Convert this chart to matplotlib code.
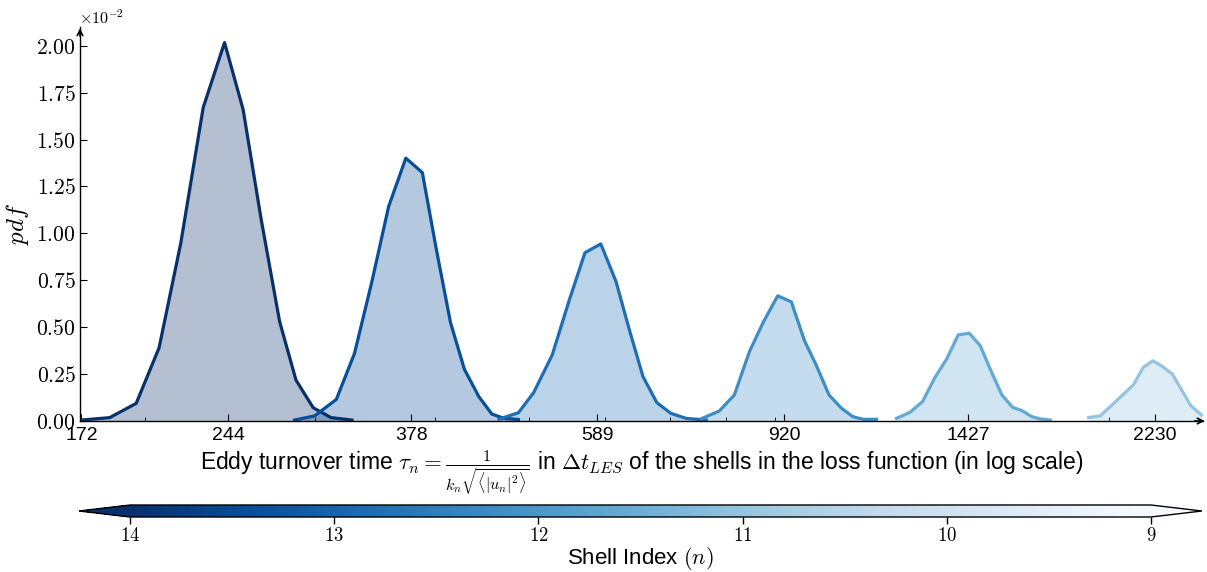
import numpy as np
import matplotlib.pyplot as plt
from matplotlib import cm, colors
from matplotlib.ticker import FuncFormatter, NullFormatter

plt.rcParams['mathtext.fontset'] = 'cm'
plt.rcParams['font.family'] = ['Liberation Sans', 'DejaVu Sans']

# pdf of the eddy turnover time per shell (pdf values in units of 1e-2)
shells = [14, 13, 12, 11, 10, 9]

tau_14 = [172, 184, 196, 207, 218, 230, 242, 253, 264, 276, 287, 299, 312, 328]
pdf_14 = [0.005, 0.018, 0.094, 0.39, 0.948, 1.671, 2.017, 1.659, 1.08, 0.53,
          0.218, 0.071, 0.018, 0.005]

tau_13 = [286, 300, 316, 330, 344, 358, 373, 388, 401, 415, 429, 444, 458, 471, 488]
pdf_13 = [0.005, 0.027, 0.115, 0.36, 0.743, 1.143, 1.401, 1.324, 0.92, 0.524,
          0.275, 0.13, 0.037, 0.015, 0.008]

tau_12 = [466, 488, 506, 529, 551, 572, 594, 616, 636, 657, 679, 702, 728, 764]
pdf_12 = [0.01, 0.044, 0.151, 0.352, 0.645, 0.897, 0.944, 0.743, 0.485, 0.236,
          0.098, 0.041, 0.014, 0.005]

tau_11 = [755, 788, 817, 847, 876, 906, 936, 966, 993, 1024, 1055, 1084, 1111, 1147]
pdf_11 = [0.012, 0.053, 0.139, 0.37, 0.53, 0.667, 0.635, 0.427, 0.299, 0.139,
          0.068, 0.023, 0.009, 0.009]

tau_10 = [1203, 1242, 1280, 1319, 1356, 1394, 1431, 1469, 1507, 1547, 1587, 1623,
          1662, 1696, 1737]
pdf_10 = [0.014, 0.046, 0.103, 0.233, 0.33, 0.459, 0.468, 0.402, 0.268, 0.139,
          0.073, 0.055, 0.023, 0.011, 0.005]

tau_9 = [1903, 1957, 2010, 2063, 2117, 2168, 2218, 2270, 2324, 2376, 2428, 2491]
pdf_9 = [0.018, 0.028, 0.083, 0.138, 0.192, 0.286, 0.321, 0.29, 0.25, 0.165,
         0.082, 0.032]

taus = [tau_14, tau_13, tau_12, tau_11, tau_10, tau_9]
pdfs = [pdf_14, pdf_13, pdf_12, pdf_11, pdf_10, pdf_9]

tau_ticks = [172, 244, 378, 589, 920, 1427, 2230]

cmap = plt.get_cmap('Blues')
line_colors = cmap(np.linspace(1.0, 0.4, len(shells)))

fig = plt.figure(figsize=(12.07, 5.72), dpi=100)
ax = fig.add_axes([80 / 1207, 151 / 572, 1123 / 1207, 394 / 572])

for tau, pdf, c in zip(taus, pdfs, line_colors):
    y = np.array(pdf) * 1e-2
    ax.fill_between(tau, y, 0, color=c, alpha=0.3, lw=0)
    ax.plot(tau, y, color=c, lw=2.3)

ax.set_xscale('log')
ax.set_xlim(171.4, 2500)
ax.set_ylim(0, 0.021)
ax.set_xticks(tau_ticks, labels=[str(t) for t in tau_ticks])
ax.xaxis.set_minor_formatter(NullFormatter())
ax.set_yticks(np.arange(0, 0.0201, 0.0025))
ax.yaxis.set_major_formatter(FuncFormatter(lambda v, _: f'${v * 100:.2f}$'))
ax.tick_params(axis='x', which='major', direction='in', length=5, labelsize=14, pad=4)
ax.tick_params(axis='x', which='minor', direction='in', length=3)
ax.tick_params(axis='y', direction='in', length=5, labelsize=15.5, pad=3)

for s in ['top', 'right']:
    ax.spines[s].set_visible(False)
ax.spines['left'].set_linewidth(1.0)
ax.spines['bottom'].set_linewidth(1.0)

# arrow heads on the axes
ax.annotate('', xy=(1.004, 0), xytext=(0.99, 0), xycoords='axes fraction',
            arrowprops=dict(arrowstyle='->', lw=1.2, color='k'))
ax.annotate('', xy=(0, 1.004), xytext=(0, 0.97), xycoords='axes fraction',
            arrowprops=dict(arrowstyle='->', lw=1.2, color='k'))

ax.text(-0.001, 1.0, r'$\times10^{-2}$', transform=ax.transAxes,
        fontsize=11.5, ha='left', va='bottom')

ax.set_ylabel('$pdf$', fontsize=18, labelpad=4)
ax.set_xlabel(r'Eddy turnover time $\tau_n = \frac{1}{k_n\sqrt{\langle|u_n|^2\rangle}}$'
              r' in $\Delta t_{LES}$ of the shells in the loss function (in log scale)',
              fontsize=16.5, labelpad=4)

# colorbar for the shell index
sm = cm.ScalarMappable(norm=colors.Normalize(9, 14), cmap=cmap)
cax = fig.add_axes([79 / 1207, 1 - 517 / 572, 1123 / 1207, 12 / 572])
cb = fig.colorbar(sm, cax=cax, orientation='horizontal', extend='both')
cb.ax.invert_xaxis()
cb.set_ticks(shells)
cb.ax.xaxis.set_major_formatter(FuncFormatter(lambda v, _: f'${v:.0f}$'))
cb.ax.tick_params(labelsize=13.5, length=5, direction='out', width=1, pad=2)
cb.outline.set_linewidth(1.0)
cb.set_label('Shell Index $(n)$', fontsize=16, labelpad=0)

fig.savefig('out.png', dpi=100)
